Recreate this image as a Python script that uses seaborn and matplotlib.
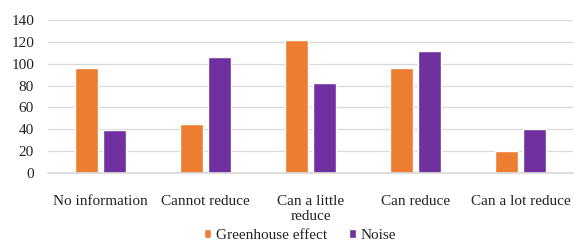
import pandas as pd
import matplotlib.pyplot as plt
import seaborn as sns

categories = ["No information", "Cannot reduce", "Can a little\nreduce", "Can reduce", "Can a lot reduce"]
greenhouse = [96, 45, 122, 96, 20]
noise = [39, 106, 82, 112, 40]
series_names = ["Greenhouse effect", "Noise"]
colors = ["#ED7D31", "#7030A0"]

sns.set_theme(style="whitegrid")
plt.rcParams['font.family'] = ['Liberation Serif', 'DejaVu Serif']

df = pd.DataFrame({
    "category": categories * 2,
    "value": greenhouse + noise,
    "series": [series_names[0]] * len(categories) + [series_names[1]] * len(categories),
})

fig = plt.figure(figsize=(5.74, 2.42), dpi=100)
ax = fig.add_axes([48 / 574, 69 / 242, 525 / 574, 153 / 242])
sns.barplot(data=df, x="category", y="value", hue="series", palette=colors,
            width=0.55, gap=0.2, ax=ax, saturation=1)

ax.set_ylim(0, 140)
ax.set_yticks(range(0, 141, 20))
ax.set_xlabel("")
ax.set_ylabel("")
ax.tick_params(axis="both", labelsize=11, colors="#222222", length=0)
ax.tick_params(axis="x", pad=16)
ax.tick_params(axis="y", pad=10)
ax.grid(axis="y", color="#d9d9d9", linewidth=0.9)
ax.grid(axis="x", visible=False)
for side in ["top", "right", "left"]:
    ax.spines[side].set_visible(False)
ax.spines["bottom"].set_color("#d9d9d9")
ax.set_facecolor("white")

ax.legend(loc="center", bbox_to_anchor=(0.48, -0.41), ncol=2, frameon=False,
          fontsize=11, handlelength=0.5, handleheight=0.5, handletextpad=0.3,
          columnspacing=1.4, borderaxespad=0, labelcolor="#222222")

fig.savefig("out.png", dpi=100)
